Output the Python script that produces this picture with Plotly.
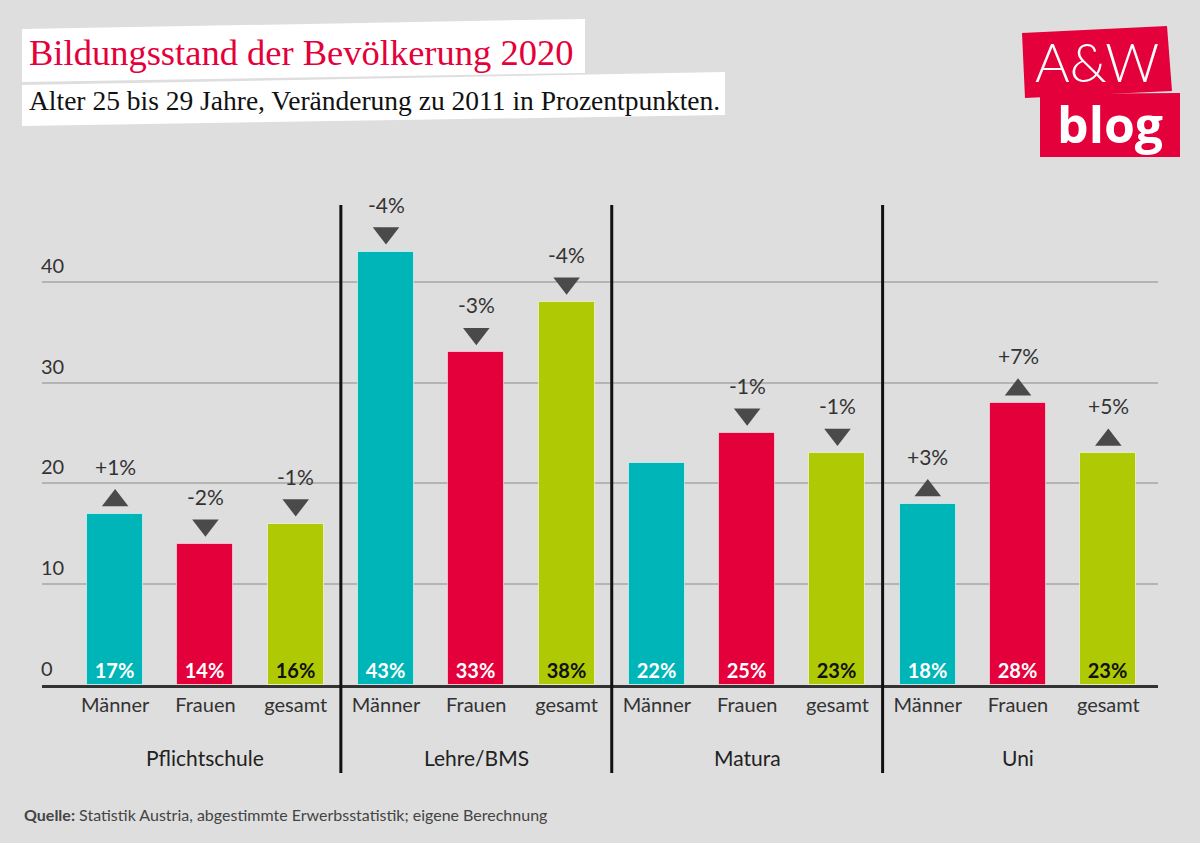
import plotly.graph_objects as go

# ---------------- data ----------------
groups = ["Pflichtschule", "Lehre/BMS", "Matura", "Uni"]
sub_labels = ["Männer", "Frauen", "gesamt"]
values = [17, 14, 16, 43, 33, 38, 22, 25, 23, 18, 28, 23]
changes = [1, -2, -1, -4, -3, -4, 0, -1, -1, 3, 7, 5]
y_ticks = [0, 10, 20, 30, 40]

title = "Bildungsstand der Bevölkerung 2020"
subtitle = "Alter 25 bis 29 Jahre, Veränderung zu 2011 in Prozentpunkten."
source_bold = "Quelle:"
source_text = " Statistik Austria, abgestimmte Erwerbsstatistik; eigene Berechnung"

# ---------------- style ----------------
W, H = 1200, 843
L, R, T, B = 42, 42, 181, 158
BG = "#dedede"
series_colors = ["#00b5b8", "#e4003a", "#afc905"]
label_colors = ["white", "white", "#111111"]
TRI = "#4a4a4a"
FONT = "Lato"
SERIF = "Liberation Serif"

n_sub = len(sub_labels)
xs = list(range(len(values)))
bar_colors = [series_colors[i % n_sub] for i in xs]
txt_colors = [label_colors[i % n_sub] for i in xs]
pw, ph = W - L - R, H - T - B


def px_x(p):
    return (p - L) / pw


def px_y(p):
    return (H - B - p) / ph


fig = go.Figure()

fig.add_trace(go.Bar(
    x=xs, y=values, width=0.62,
    marker=dict(color=bar_colors, line=dict(color="rgba(255,255,255,0.55)", width=1)),
    text=[f"{v}%" for v in values], textposition="inside", insidetextanchor="start",
    textangle=0,
    textfont=dict(family=FONT, size=20, color=txt_colors, weight=700),
    hoverinfo="skip", cliponaxis=False,
))

# triangles for change
up_x = [x for x, c in zip(xs, changes) if c > 0]
up_y = [values[x] + 1.3 for x in up_x]
dn_x = [x for x, c in zip(xs, changes) if c < 0]
dn_y = [values[x] + 1.85 for x in dn_x]
fig.add_trace(go.Scatter(x=up_x, y=up_y, mode="markers", hoverinfo="skip",
                         marker=dict(symbol="triangle-up", size=23, color=TRI, line=dict(width=0))))
fig.add_trace(go.Scatter(x=dn_x, y=dn_y, mode="markers", hoverinfo="skip",
                         marker=dict(symbol="triangle-down", size=23, color=TRI, line=dict(width=0))))

annotations = []
for x, c in zip(xs, changes):
    if c == 0:
        continue
    annotations.append(dict(x=x, y=values[x], xref="x", yref="y", text=f"{c:+d}%",
                            showarrow=False, yanchor="bottom", yshift=33,
                            font=dict(family=FONT, size=21, color="#333333")))

# y tick labels above gridlines
for v in y_ticks:
    annotations.append(dict(x=0, y=v, xref="paper", yref="y", text=str(v), showarrow=False,
                            xanchor="left", yanchor="bottom", xshift=-3, yshift=3,
                            font=dict(family=FONT, size=20, color="#333333")))

# group labels
for g, name in enumerate(groups):
    center = g * n_sub + (n_sub - 1) / 2
    annotations.append(dict(x=center, y=px_y(757), xref="x", yref="paper", text=name,
                            showarrow=False, yanchor="middle",
                            font=dict(family=FONT, size=21, color="#222222")))

shapes = []
# separators between groups
for g in range(1, len(groups)):
    sx = g * n_sub - 0.5
    shapes.append(dict(type="line", xref="x", yref="paper", x0=sx, x1=sx,
                       y0=px_y(773), y1=px_y(205), line=dict(color="#111111", width=3)))


def poly(pts, color):
    path = "M " + " L ".join(f"{px_x(a)},{px_y(b)}" for a, b in pts) + " Z"
    return dict(type="path", xref="paper", yref="paper", path=path,
                fillcolor=color, line=dict(width=0), layer="below")


# title boxes
shapes.append(poly([(22, 29), (585, 19), (585, 73), (22, 82)], "white"))
shapes.append(poly([(22, 85), (725, 72), (725, 115), (22, 126)], "white"))
# logo boxes
shapes.append(poly([(1022, 33), (1167, 26), (1172, 91), (1025, 98)], "#e4003a"))
shapes.append(poly([(1040, 94), (1180, 93), (1180, 157), (1040, 157)], "#e4003a"))

annotations += [
    dict(x=px_x(27), y=px_y(52), xref="paper", yref="paper", text=title, showarrow=False,
         xanchor="left", yanchor="middle", font=dict(family=SERIF, size=36.5, color="#e4003a")),
    dict(x=px_x(27), y=px_y(101), xref="paper", yref="paper", text=subtitle, showarrow=False,
         xanchor="left", yanchor="middle", font=dict(family=SERIF, size=27.5, color="#111111")),
    dict(x=px_x(1097), y=px_y(62), xref="paper", yref="paper", text="A&W", showarrow=False,
         xanchor="center", yanchor="middle", font=dict(family=FONT, size=53, color="white", weight=300)),
    dict(x=px_x(1110), y=px_y(124), xref="paper", yref="paper", text="blog", showarrow=False,
         xanchor="center", yanchor="middle", font=dict(family="Open Sans", size=50, color="white", weight=700)),
    dict(x=px_x(22), y=px_y(814), xref="paper", yref="paper",
         text=f"<b>{source_bold}</b>{source_text}", showarrow=False,
         xanchor="left", yanchor="middle", font=dict(family=FONT, size=16, color="#444444")),
]

fig.update_layout(
    width=W, height=H, margin=dict(l=L, r=R, t=T, b=B),
    paper_bgcolor=BG, plot_bgcolor=BG, showlegend=False, bargap=0,
    annotations=annotations, shapes=shapes,
    xaxis=dict(range=[-0.81, len(values) - 1 + 0.55], tickvals=xs,
               ticktext=[sub_labels[i % n_sub] for i in xs], ticks="",
               tickfont=dict(family=FONT, size=20, color="#333333"),
               showline=True, linecolor="#333333", linewidth=3, showgrid=False,
               zeroline=False, fixedrange=True, ticklabelstandoff=0),
    yaxis=dict(range=[0, 50], tickvals=y_ticks[1:], showticklabels=False,
               showgrid=True, gridcolor="#b4b4b4", gridwidth=1.5, zeroline=False,
               showline=False, fixedrange=True),
)

fig.write_html("out.html", config={"displayModeBar": False},
               post_script="document.body.style.margin='0';document.body.style.background='#dedede';")
